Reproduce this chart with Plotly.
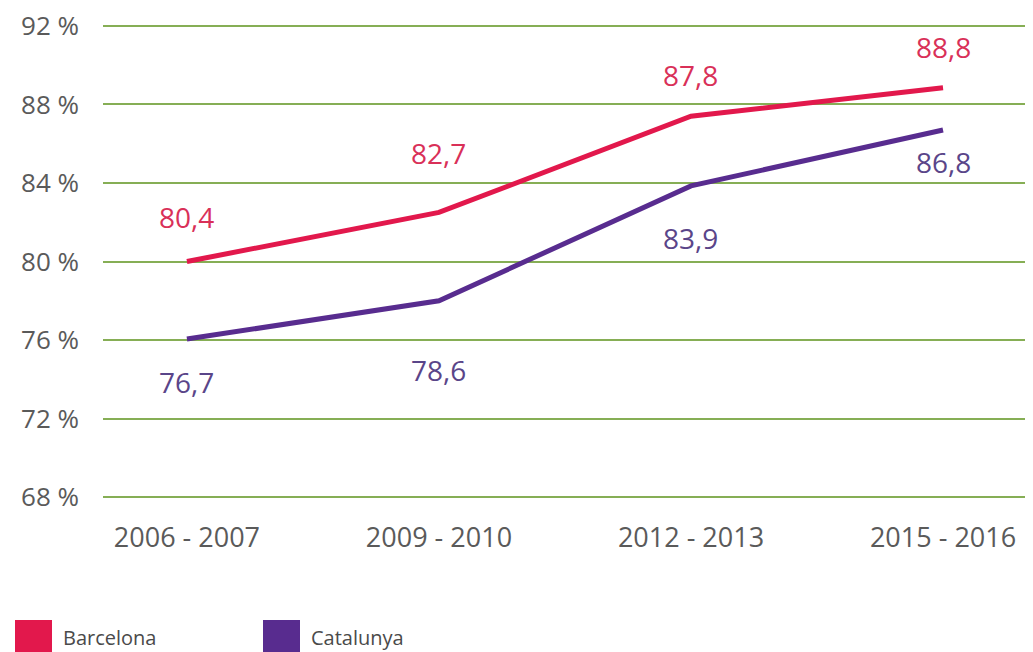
import plotly.graph_objects as go

periods = ["2006 - 2007", "2009 - 2010", "2012 - 2013", "2015 - 2016"]
barcelona = [80.0, 82.5, 87.4, 88.85]
catalunya = [76.05, 78.0, 83.85, 86.7]
barcelona_labels = ["80,4", "82,7", "87,8", "88,8"]
catalunya_labels = ["76,7", "78,6", "83,9", "86,8"]
y_ticks = [68, 72, 76, 80, 84, 88, 92]
y_tick_text = ["68 %", "72 %", "76 %", "80 %", "84 %", "88 %", "92 %"]

RED = "#E2184C"
PURPLE = "#582C8F"
RED_TXT = "#D93058"
PURPLE_TXT = "#5A4589"
GRID = "#86AE55"
FONT = "Open Sans"

# page body has an 8px default margin; figure is sized to fit the window
W, H = 1025, 644
PL, PT, PW, PH = 95, 15, 930, 477


def px(fx):
    return (fx - 8 - PL) / PW


def py(fy):
    return (PT + PH - (fy - 8)) / PH


xs = list(range(len(periods)))

fig = go.Figure()
fig.add_trace(go.Scatter(x=xs, y=barcelona, mode="lines", name="Barcelona",
                         line=dict(color=RED, width=5), showlegend=False))
fig.add_trace(go.Scatter(x=xs, y=catalunya, mode="lines", name="Catalunya",
                         line=dict(color=PURPLE, width=5), showlegend=False))

b_shift = [45, 59, 41, 41]
c_shift = [-43, -69, -52, -32]
for i, (v, t) in enumerate(zip(barcelona, barcelona_labels)):
    fig.add_annotation(x=xs[i], y=v, text=t, showarrow=False, yshift=b_shift[i],
                       font=dict(family=FONT, size=28, color=RED_TXT))
for i, (v, t) in enumerate(zip(catalunya, catalunya_labels)):
    fig.add_annotation(x=xs[i], y=v, text=t, showarrow=False, yshift=c_shift[i],
                       font=dict(family=FONT, size=28, color=PURPLE_TXT))

# legend drawn manually
legend_items = [("Barcelona", RED, 15), ("Catalunya", PURPLE, 263)]
for name, col, x0 in legend_items:
    fig.add_shape(type="rect", xref="paper", yref="paper",
                  x0=px(x0), x1=px(x0 + 37), y0=py(660), y1=py(620),
                  fillcolor=col, line=dict(width=0))
    fig.add_annotation(xref="paper", yref="paper", x=px(x0 + 46),
                       y=py(637), text=name, showarrow=False,
                       xanchor="left", yanchor="middle",
                       font=dict(family=FONT, size=20, color="#4a4a4a"))

fig.update_layout(
    width=W, height=H,
    margin=dict(l=PL, r=W - PL - PW, t=PT, b=H - PT - PH, autoexpand=False),
    paper_bgcolor="white", plot_bgcolor="white",
    showlegend=False,
)
fig.update_xaxes(
    range=[-0.333, 3.357], tickvals=xs, ticktext=periods,
    showgrid=False, zeroline=False, showline=False, automargin=False,
    ticklabelstandoff=19, ticklabeloverflow="allow",
    tickfont=dict(family=FONT, size=27, color="#5a5a5a"),
)
fig.update_yaxes(
    range=[67.85, 92.15], tickvals=y_ticks, ticktext=y_tick_text,
    showgrid=True, gridcolor=GRID, gridwidth=2, zeroline=False, showline=False,
    automargin=False, ticklabelstandoff=23, ticklabeloverflow="allow",
    tickfont=dict(family=FONT, size=26, color="#5a5a5a"),
)

fig.write_html("out.html")
